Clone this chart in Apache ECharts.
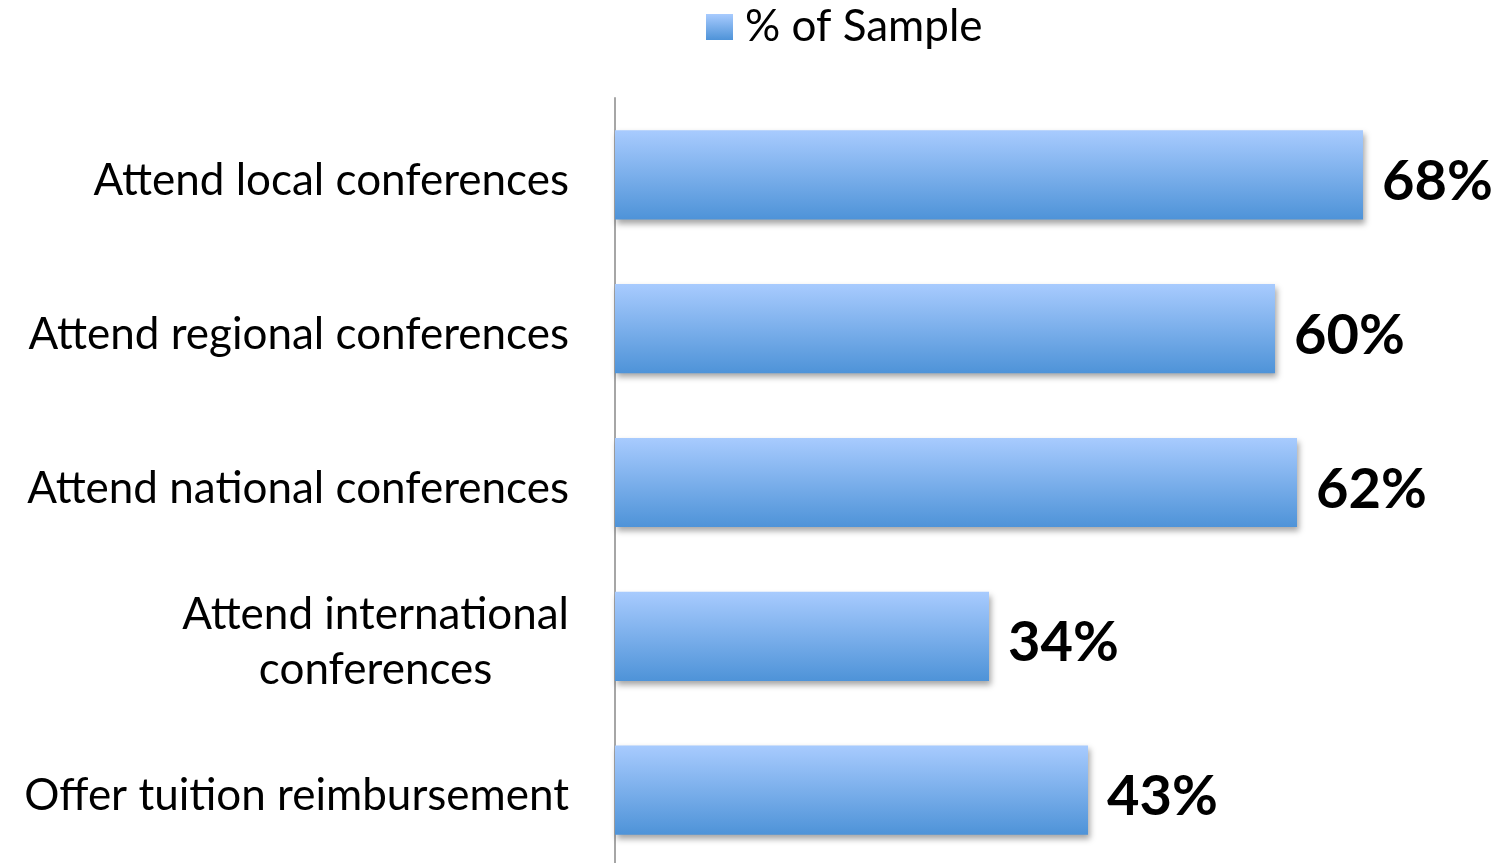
<!DOCTYPE html>
<html>
<head>
<meta charset="utf-8">
<script src="https://cdn.jsdelivr.net/npm/echarts@6/dist/echarts.min.js"></script>
<style>
  html, body { margin: 0; padding: 0; background: #fff; overflow: hidden; }
  #chart { width: 1498px; height: 872px; }
</style>
</head>
<body>
<div id="chart"></div>
<script>
const categories = [
  'Attend local conferences',
  'Attend regional conferences',
  'Attend national conferences',
  'Attend international\nconferences',
  'Offer tuition reimbursement'
]
const values = [68, 60, 62, 34, 43]
const seriesName = '% of Sample'

const font = 'Lato'
const chart = echarts.init(document.getElementById('chart'))

chart.setOption({
  animation: false,
  legend: {
    top: 0,
    left: 701,
    icon: 'rect',
    itemWidth: 27,
    itemHeight: 26,
    textStyle: { fontFamily: font, fontSize: 44, color: '#000', padding: [0, 0, 0, 7] },
    data: [seriesName]
  },
  grid: {
    left: 615,
    top: 98,
    width: 880,
    height: 769
  },
  xAxis: {
    type: 'value',
    min: 0,
    max: 80,
    show: false,
    splitLine: { show: false }
  },
  yAxis: {
    type: 'category',
    inverse: true,
    data: categories,
    axisTick: { show: false },
    axisLine: { show: true, lineStyle: { color: '#a6a6a6', width: 2 } },
    axisLabel: {
      margin: 46,
      fontFamily: font,
      fontSize: 44,
      color: '#000',
      lineHeight: 55,
      padding: [12, 0, 0, 0],
      formatter: v => v.split('\n').map(s => '{c|' + s + '}').join('\n'),
      rich: {
        c: { align: 'center', fontFamily: font, fontSize: 44, color: '#000', lineHeight: 55 }
      }
    }
  },
  series: [
    {
      name: seriesName,
      type: 'bar',
      data: values,
      barWidth: '58%',
      itemStyle: {
        color: new echarts.graphic.LinearGradient(0, 0, 0, 1, [
          { offset: 0, color: '#a8cbfe' },
          { offset: 1, color: '#4e93d8' }
        ]),
        shadowColor: 'rgba(0,0,0,0.35)',
        shadowBlur: 6,
        shadowOffsetX: 2,
        shadowOffsetY: 4
      },
      label: {
        show: true,
        position: 'right',
        distance: 19,
        offset: [0, 7],
        formatter: '{c}%',
        fontFamily: font,
        fontSize: 56,
        fontWeight: 'bold',
        color: '#000'
      }
    }
  ]
})
</script>
</body>
</html>
